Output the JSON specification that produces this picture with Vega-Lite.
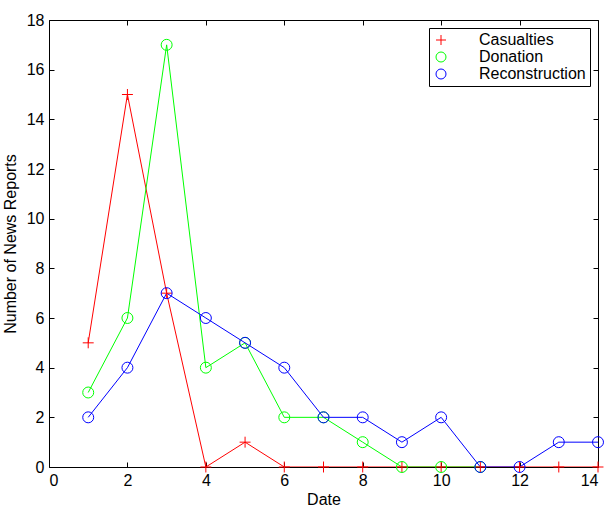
{
  "$schema": "https://vega.github.io/schema/vega-lite/v6.json",
  "width": 549,
  "height": 447,
  "padding": {"left": 2, "top": 12, "right": 5, "bottom": 0},
  "background": "white",
  "config": {
    "font": "Liberation Sans",
    "view": {"stroke": null},
    "axis": {"labelFont": "Liberation Sans", "titleFont": "Liberation Sans", "labelFontSize": 16, "titleFontSize": 16, "titleFontWeight": "normal", "labelColor": "black", "titleColor": "black", "domainColor": "black", "tickColor": "black", "grid": false, "tickSize": -5, "labelPadding": 10},
    "legend": {"title": null, "orient": "top-right", "offset": 8, "strokeColor": "black", "fillColor": "white", "padding": 4, "labelFontSize": 16, "labelFont": "Liberation Sans", "labelColor": "black", "symbolStrokeWidth": 1, "rowPadding": 1, "symbolSize": 100, "labelOffset": 30, "symbolFillColor": "transparent"}
  },
  "data": {"values": [
    {"series": "Casualties", "date": 1, "count": 5},
    {"series": "Casualties", "date": 2, "count": 15},
    {"series": "Casualties", "date": 3, "count": 7},
    {"series": "Casualties", "date": 4, "count": 0},
    {"series": "Casualties", "date": 5, "count": 1},
    {"series": "Casualties", "date": 6, "count": 0},
    {"series": "Casualties", "date": 7, "count": 0},
    {"series": "Casualties", "date": 8, "count": 0},
    {"series": "Casualties", "date": 9, "count": 0},
    {"series": "Casualties", "date": 10, "count": 0},
    {"series": "Casualties", "date": 11, "count": 0},
    {"series": "Casualties", "date": 12, "count": 0},
    {"series": "Casualties", "date": 13, "count": 0},
    {"series": "Casualties", "date": 14, "count": 0},
    {"series": "Donation", "date": 1, "count": 3},
    {"series": "Donation", "date": 2, "count": 6},
    {"series": "Donation", "date": 3, "count": 17},
    {"series": "Donation", "date": 4, "count": 4},
    {"series": "Donation", "date": 5, "count": 5},
    {"series": "Donation", "date": 6, "count": 2},
    {"series": "Donation", "date": 7, "count": 2},
    {"series": "Donation", "date": 8, "count": 1},
    {"series": "Donation", "date": 9, "count": 0},
    {"series": "Donation", "date": 10, "count": 0},
    {"series": "Donation", "date": 11, "count": 0},
    {"series": "Reconstruction", "date": 1, "count": 2},
    {"series": "Reconstruction", "date": 2, "count": 4},
    {"series": "Reconstruction", "date": 3, "count": 7},
    {"series": "Reconstruction", "date": 4, "count": 6},
    {"series": "Reconstruction", "date": 5, "count": 5},
    {"series": "Reconstruction", "date": 6, "count": 4},
    {"series": "Reconstruction", "date": 7, "count": 2},
    {"series": "Reconstruction", "date": 8, "count": 2},
    {"series": "Reconstruction", "date": 9, "count": 1},
    {"series": "Reconstruction", "date": 10, "count": 2},
    {"series": "Reconstruction", "date": 11, "count": 0},
    {"series": "Reconstruction", "date": 12, "count": 0},
    {"series": "Reconstruction", "date": 13, "count": 1},
    {"series": "Reconstruction", "date": 14, "count": 1}
  ]},
  "layer": [
    {
      "mark": {"type": "line", "strokeWidth": 1, "clip": true},
      "encoding": {
        "x": {"field": "date", "type": "quantitative", "scale": {"domain": [0, 14], "nice": false}, "axis": {"orient": "bottom", "title": "Date", "values": [0,2,4,6,8,10,12,14], "titlePadding": 3}},
        "y": {"field": "count", "type": "quantitative", "scale": {"domain": [0, 18], "nice": false}, "axis": {"orient": "left", "title": "Number of News Reports", "values": [0,2,4,6,8,10,12,14,16,18], "titlePadding": 8}},
        "color": {"field": "series", "type": "nominal", "scale": {"domain": ["Casualties", "Donation", "Reconstruction"], "range": ["#ff0000", "#00ff00", "#0000ff"]}}
      }
    },
    {
      "mark": {"type": "point", "filled": false, "strokeWidth": 1, "size": 120, "opacity": 1, "clip": false},
      "encoding": {
        "x": {"field": "date", "type": "quantitative", "scale": {"domain": [0, 14], "nice": false}, "axis": {"orient": "top", "labels": false, "title": null, "values": [0,2,4,6,8,10,12,14]}},
        "y": {"field": "count", "type": "quantitative", "scale": {"domain": [0, 18], "nice": false}, "axis": {"orient": "right", "labels": false, "title": null, "values": [0,2,4,6,8,10,12,14,16,18]}},
        "color": {"field": "series", "type": "nominal", "scale": {"domain": ["Casualties", "Donation", "Reconstruction"], "range": ["#ff0000", "#00ff00", "#0000ff"]}, "legend": {"encode": {"symbols": {"update": {"shape": {"signal": "datum.value === 'Casualties' ? 'M-5,0L5,0M0,-1.2L0,1.2' : 'M-5,0L-1.2,0M1.2,0L5,0M-1.2,0A1.2,1.2 0 1,0 1.2,0A1.2,1.2 0 1,0 -1.2,0'"}}}}}},
        "shape": {"field": "series", "type": "nominal", "scale": {"domain": ["Casualties", "Donation", "Reconstruction"], "range": ["M-1,0L1,0M0,-1L0,1", "circle", "circle"]}, "legend": null}
      }
    }
  ],
  "resolve": {"axis": {"x": "independent", "y": "independent"}}
}
